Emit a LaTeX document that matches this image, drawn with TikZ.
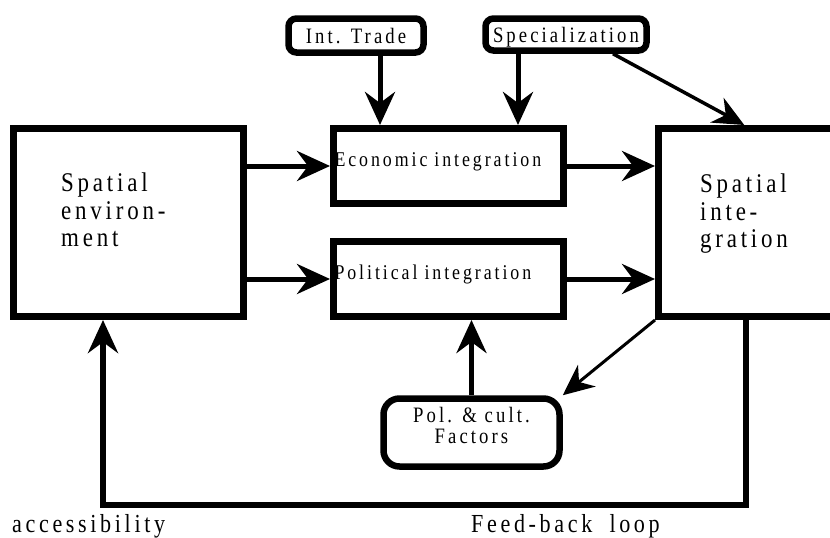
\documentclass[tikz,border=0pt]{standalone}
\usepackage{fontspec}
\setmainfont{Liberation Serif}
\newfontfamily\lblfont[FakeStretch=0.85,LetterSpace=14]{Liberation Serif}
\usetikzlibrary{arrows.meta}
\begin{document}
\begin{tikzpicture}[x=1pt,y=-1pt,
    box/.style={draw,line width=7pt,inner sep=0pt},
    tagbox/.style={draw,line width=6.5pt,rounded corners=8pt,inner sep=0pt,
      font=\lblfont\fontsize{22}{21}\selectfont,text height=15pt,text depth=0pt},
    bigtxt/.style={font=\lblfont\fontsize{27}{27.5}\selectfont,align=left,inner sep=0pt},
    lowtxt/.style={font=\lblfont\fontsize{26}{26}\selectfont,inner sep=0pt},
    arr/.style={line width=5pt,-{Stealth[length=33pt,width=30pt,inset=11pt]}},
    thinarr/.style={line width=3.5pt,-{Stealth[length=31pt,width=28pt,inset=10pt]}}]
    \useasboundingbox (0,0) rectangle (830,538);
    % main boxes
    \node[box,minimum width=230pt,minimum height=188pt] (env) at (128.5,222.5) {};
    \node[bigtxt,anchor=north west] (envtxt) at (61,172.6) {Spatial\\environ-\\ment};
    \node[box,minimum width=221.5pt,minimum height=188pt] (spint) at (769.25,222.5) {};
    \node[bigtxt,anchor=north west] (spinttxt) at (700,173.6) {Spatial\\inte-\\gration};
    \node[box,minimum width=230pt,minimum height=75pt,text width=228pt,inner xsep=1pt,align=left,
      font=\lblfont\fontsize{21}{21}\selectfont,text height=15pt,text depth=15pt] (econ) at (448.5,166) {Economic integration};
    \node[box,minimum width=230pt,minimum height=75pt,text width=228pt,inner xsep=1pt,align=left,
      font=\lblfont\fontsize{21}{21}\selectfont,text height=15pt,text depth=15pt] (pol) at (448.5,279) {Political integration};
    % rounded boxes
    \node[tagbox,minimum width=135pt,minimum height=34pt] (trade) at (356,35.5) {Int. Trade};
    \node[tagbox,minimum width=161pt,minimum height=32pt] (spec) at (566,34.5) {Specialization};
    \node[tagbox,rounded corners=16pt,minimum width=176pt,minimum height=68pt,align=center,
      text height=36pt,text depth=15pt] (polcult) at (471.5,432.5) {Pol. \& cult.\\Factors};
    % arrows
    \draw[arr] (env.east |- econ) -- (econ.west);
    \draw[arr] (env.east |- pol) -- (pol.west);
    \draw[arr] (econ.east) -- (econ.east -| spint.west);
    \draw[arr] (pol.east) -- (pol.east -| spint.west);
    \coordinate (tradeout) at ([xshift=24pt]trade.south);
    \draw[arr] (tradeout) -- (tradeout |- econ.north);
    \coordinate (specout) at ([xshift=-48pt]spec.south);
    \draw[arr] (specout) -- (specout |- econ.north);
    \draw[thinarr] ([xshift=47pt]spec.south) -- ([xshift=-25pt]spint.north);
    \draw[arr] (polcult) -- (polcult |- pol.south);
    \draw[thinarr,line width=3pt] (spint.south west) -- (polcult.north east);
    % feed-back loop
    \draw[arr,line width=6pt] ([xshift=-23pt]spint.south) -- ++(0,185) -| ([xshift=-25.5pt]env.south);
    \node[lowtxt,anchor=base west] (acc) at (12,532) {accessibility};
    \node[lowtxt,anchor=base west] (loop) at (471,532) {Feed-back\hspace{8pt} loop};
\end{tikzpicture}
\end{document}
